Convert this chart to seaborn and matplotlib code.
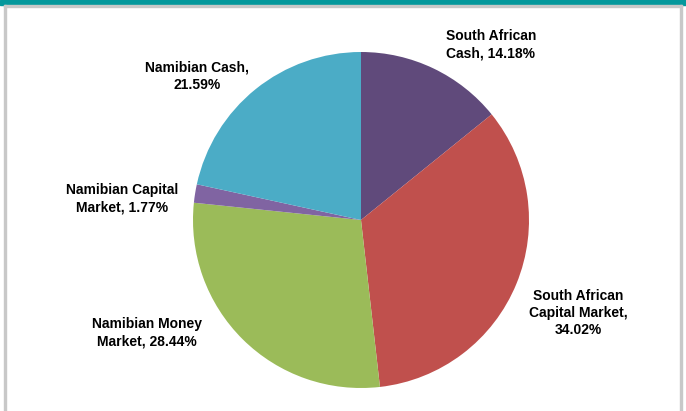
import matplotlib.pyplot as plt
import seaborn as sns
from matplotlib.patches import Rectangle

sns.set_style("white")
plt.rcParams['font.family'] = ['Liberation Sans', 'DejaVu Sans']

categories = ["South African Cash", "South African Capital Market", "Namibian Money Market",
              "Namibian Capital Market", "Namibian Cash"]
shares = [14.18, 34.02, 28.44, 1.77, 21.59]
labels = ["South African\nCash, 14.18%", "South African\nCapital Market,\n34.02%",
          "Namibian Money\nMarket, 28.44%", "Namibian Capital\nMarket, 1.77%",
          "Namibian Cash,\n21.59%"]
colors = sns.color_palette(["#604A7B", "#C0504D", "#9BBB59", "#8064A2", "#4BACC6"])

# label centres in pixel coords (y from bottom)
label_pos = [(491, 366), (578, 98), (147, 78), (122, 212), (197, 335)]

fig = plt.figure(figsize=(6.86, 4.11), dpi=100)
ax = fig.add_axes([0, 0, 1, 1])
ax.set_xlim(0, 686)
ax.set_ylim(0, 411)
ax.set_aspect('equal')
ax.axis('off')

ax.pie(shares, colors=colors, startangle=90, counterclock=False,
       center=(361, 191), radius=168, wedgeprops=dict(linewidth=0))
ax.set_xlim(0, 686)
ax.set_ylim(0, 411)

for (x, y), lab in zip(label_pos, labels):
    ax.text(x, y, lab, ha='center', va='center', fontsize=10, fontweight='bold',
            color='black', linespacing=1.3)

# frame: teal band on top, grey sides
ax.add_patch(Rectangle((0, 406), 686, 5, color="#05989C", zorder=5))
ax.add_patch(Rectangle((4, 0), 2, 406, color="#C8C8C8", zorder=5))
ax.add_patch(Rectangle((680, 0), 2, 406, color="#C8C8C8", zorder=5))
ax.add_patch(Rectangle((4, 404), 678, 2, color="#C8C8C8", zorder=5))

fig.savefig("out.png", dpi=100)
